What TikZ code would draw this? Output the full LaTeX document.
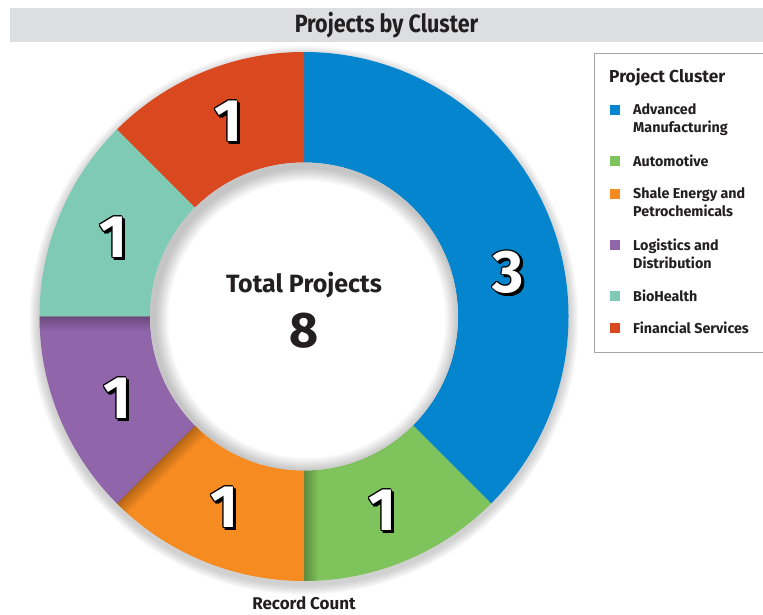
\documentclass[tikz,border=0pt]{standalone}
\usepackage{fontspec}
\setmainfont{Fira Sans}
\newfontfamily\condfont[FakeStretch=0.86]{Fira Sans}
\definecolor{blueseg}{HTML}{0485CE}
\definecolor{greenseg}{HTML}{7FC35C}
\definecolor{orangeseg}{HTML}{F68B21}
\definecolor{purpleseg}{HTML}{9065AA}
\definecolor{tealseg}{HTML}{7ECAB5}
\definecolor{redseg}{HTML}{D9481F}
\definecolor{barcol}{HTML}{DDDEDF}
\definecolor{txtcol}{HTML}{231F20}
\tikzset{
  numtxt/.style={font=\fontsize{60}{60}\selectfont\bfseries, inner sep=0pt},
  legtxt/.style={font=\fontsize{14.3}{18}\selectfont\bfseries, text=txtcol, inner sep=0pt, anchor=north west, align=left},
  legsq/.style={minimum size=10pt, inner sep=0pt, anchor=center},
}
\newcommand\ringnum[3]{%
  \foreach \dx/\dy [count=\i] in {2.6/-2.6,3.4/-3.4,1.8/-3.4,3.4/-1.8,1/0,-1/0,0/1,0/-1,0.8/0.8,-0.8/0.8,0.8/-0.8,-0.8/-0.8}
    \node[numtxt, text=black, xshift=\dx pt, yshift=\dy pt] (#1s\i) at (#2) {#3};
  \node[numtxt, text=white] (#1) at (#2) {#3};
}
\newcommand\segpath[2]{(#1:264.5) arc[start angle=#1, end angle=#2, radius=264.5] -- (#2:154) arc[start angle=#2, end angle=#1, radius=154] -- cycle}
\begin{document}
\begin{tikzpicture}[x=1pt,y=1pt]
\useasboundingbox (0,0) rectangle (763,614);
\clip (0,0) rectangle (763,614);
% title bar
\fill[barcol] (10,572) rectangle (763,606);
\node[font=\condfont\fontsize{25}{25}\selectfont\bfseries, text=txtcol] (title) at (386.5,589) {Projects by Cluster};
% ring
\coordinate (C) at (304,297.5);
\begin{scope}[shift={(C)}]
  % outer drop shadow
  \foreach \k in {1,...,10}
    \fill[black, opacity=0.02] (0,-4) circle (264.5+11-\k);
  \fill[blueseg] \segpath{90}{-45};
  \fill[greenseg] \segpath{-45}{-90};
  \fill[orangeseg] \segpath{-90}{-135};
  \fill[purpleseg] \segpath{-135}{-180};
  \fill[tealseg] \segpath{-180}{-225};
  \fill[redseg] \segpath{-225}{-270};
  % shadows cast across boundaries
  \begin{scope}
    \clip \segpath{-45}{-90};
    \begin{scope}[rotate=-90]
      \foreach \w in {14,12,10,8,6,4,2}
        \fill[black, opacity=0.04] (140,0) rectangle (280,\w);
    \end{scope}
  \end{scope}
  \begin{scope}
    \clip \segpath{-90}{-135};
    \begin{scope}[rotate=-135]
      \foreach \w in {14,12,10,8,6,4,2}
        \fill[black, opacity=0.04] (140,0) rectangle (280,\w);
    \end{scope}
  \end{scope}
  \begin{scope}
    \clip \segpath{-135}{-180};
    \begin{scope}[rotate=-180]
      \foreach \w in {14,12,10,8,6,4,2}
        \fill[black, opacity=0.04] (140,0) rectangle (280,\w);
    \end{scope}
  \end{scope}
  % hole with inner shadow
  \fill[white] (0,0) circle (154);
  \foreach \k in {0,...,9}
    \fill[black, opacity=0.022, even odd rule] (0,0) circle (154) (3,-3) circle (154-3-\k*1.4);
\end{scope}
% centre text
\node[font=\fontsize{25}{25}\selectfont\bfseries, text=txtcol, anchor=base, inner sep=0pt] (total) at (304,321) {Total Projects};
\node[font=\fontsize{50}{50}\selectfont\bfseries, text=txtcol, anchor=base, inner sep=0pt] (eight) at (304,266) {8};
% ring numbers
\ringnum{nblue}{508,342}{3}
\ringnum{ngreen}{382,104}{1}
\ringnum{norange}{224,107}{1}
\ringnum{npurple}{117,216}{1}
\ringnum{nteal}{113,377}{1}
\ringnum{nred}{228,493}{1}
% bottom label
\node[font=\fontsize{17}{17}\selectfont\bfseries, text=txtcol, anchor=base, inner sep=0pt] (record) at (304,5) {Record Count};
% legend
\draw[black!35, line width=1pt] (594,560) rectangle (775,262);
\node[font=\fontsize{17.3}{17.3}\selectfont\bfseries, text=txtcol, anchor=base west, inner sep=0pt] (legtitle) at (609,531) {Project Cluster};
\node[legsq, fill=blueseg] (sq1) at (614.5,504) {};
\node[legtxt] (lt1) at (633,510.5) {Advanced\\Manufacturing};
\node[legsq, fill=greenseg] (sq2) at (614.5,453) {};
\node[legtxt] (lt2) at (633,459.5) {Automotive};
\node[legsq, fill=orangeseg] (sq3) at (614.5,420) {};
\node[legtxt] (lt3) at (633,426.5) {Shale Energy and\\Petrochemicals};
\node[legsq, fill=purpleseg] (sq4) at (614.5,369) {};
\node[legtxt] (lt4) at (633,375.5) {Logistics and\\Distribution};
\node[legsq, fill=tealseg] (sq5) at (614.5,318) {};
\node[legtxt] (lt5) at (633,324.5) {BioHealth};
\node[legsq, fill=redseg] (sq6) at (614.5,286) {};
\node[legtxt] (lt6) at (633,292.5) {Financial Services};
\end{tikzpicture}
\end{document}
